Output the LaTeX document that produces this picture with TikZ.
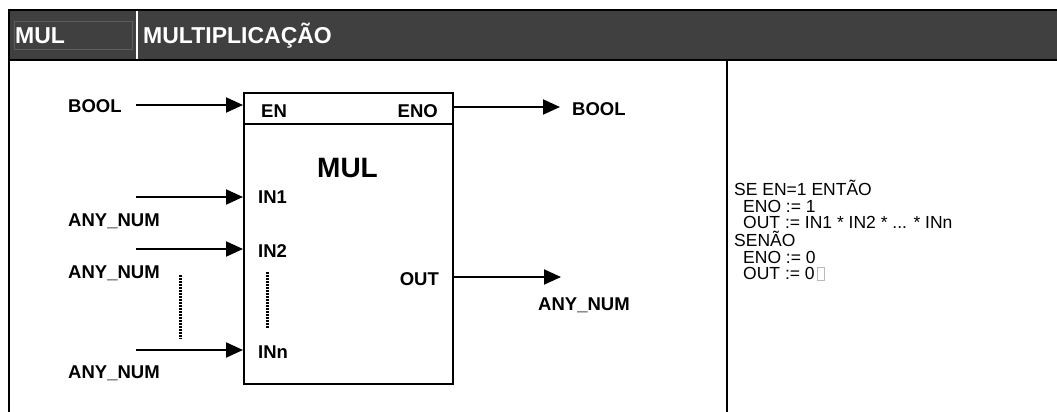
\documentclass[tikz,border=0pt]{standalone}
\usepackage{fontspec}
\setmainfont{Liberation Sans}
\usetikzlibrary{arrows.meta}

\definecolor{hdrgray}{HTML}{404040}
\definecolor{hdredge}{HTML}{5C5C5C}
\newcommand{\nobox}{\hspace{2pt}{\color{gray!55}\fboxsep=0pt\fboxrule=0.7pt\fbox{\rule{0pt}{12pt}\hspace{7pt}}}}

\begin{document}
\begin{tikzpicture}[x=1pt, y=-1pt,
    pin/.style={line width=2pt, -{Triangle[length=17pt,width=15pt]}},
    lbl/.style={anchor=base west, inner sep=0, font=\fontsize{18.5}{20}\selectfont\bfseries},
    rlbl/.style={lbl, anchor=base east},
    hdr/.style={lbl, text=white, font=\fontsize{23}{25}\selectfont\bfseries},
    code/.style={anchor=base west, inner sep=0, font=\fontsize{17.5}{18}\selectfont},
    dots/.style={line width=3pt, dash pattern=on 1.6pt off 1.4pt}]
    \useasboundingbox (0,0) rectangle (1057,412);

    % header band
    \fill[hdrgray] (8,10) rectangle (1057,60);
    \draw[hdredge] (14,21) rectangle (132,49);
    \draw[white, line width=1.5pt] (137,11) -- (137,59);
    \draw[line width=2pt] (8,10) -- (1057,10);
    \draw[line width=2pt] (8,60) -- (1057,60);
    \node[hdr] (hmul) at (15,43.5) {MUL};
    \node[hdr] (htitle) at (143,43.5) {MULTIPLICAÇÃO};

    % table borders
    \draw[line width=2pt] (9,10) -- (9,412);
    \draw[line width=2pt] (727,60) -- (727,412);

    % function block
    \node[draw, line width=2pt, inner sep=0, anchor=north west,
          minimum width=209pt, minimum height=291pt] (mulblk) at (243,92) {};
    \draw[line width=2pt] (mulblk.west |- 0,124) -- (mulblk.east |- 0,124);
    \node[lbl, anchor=base] (bname) at (347.5,177) {\fontsize{28}{30}\selectfont MUL};
    \node[lbl] (pen) at (261,117) {EN};
    \node[rlbl] (peno) at (438,117) {ENO};
    \node[lbl] (pin1) at (258,203) {IN1};
    \node[lbl] (pin2) at (258,257) {IN2};
    \node[lbl] (pinn) at (258,358) {INn};
    \node[rlbl] (pout) at (439,285) {OUT};
    \draw[dots] (267,272) -- (267,328);

    % inputs
    \coordinate (ien) at (136,105);
    \coordinate (iin1) at (136,197);
    \coordinate (iin2) at (136,249);
    \coordinate (iinn) at (136,350);
    \draw[pin] (ien) -- (ien -| mulblk.west);
    \draw[pin] (iin1) -- (iin1 -| mulblk.west);
    \draw[pin] (iin2) -- (iin2 -| mulblk.west);
    \draw[pin] (iinn) -- (iinn -| mulblk.west);
    \node[lbl] (tbool) at (68,112) {BOOL};
    \node[lbl] (tnum1) at (68,226) {ANY\_NUM};
    \node[lbl] (tnum2) at (68,278) {ANY\_NUM};
    \node[lbl] (tnumn) at (68,378) {ANY\_NUM};
    \draw[dots] (180,275) -- (180,339);

    % outputs
    \coordinate (oeno) at (560,107);
    \coordinate (oout) at (561,277);
    \draw[pin] (oeno -| mulblk.east) -- (oeno);
    \draw[pin] (oout -| mulblk.east) -- (oout);
    \node[lbl] (obool) at (572,115) {BOOL};
    \node[lbl] (onum) at (538,310) {ANY\_NUM};

    % description
    \node[code] (c1) at (734,195.5) {SE EN=1 ENTÃO};
    \node[code] (c2) at (743,212) {ENO := 1};
    \node[code] (c3) at (743,228.5) {OUT := IN1 * IN2 * ... * INn};
    \node[code] (c4) at (734,246.5) {SENÃO};
    \node[code] (c5) at (743,263) {ENO := 0};
    \node[code] (c6) at (743,279.5) {OUT := 0\nobox};
\end{tikzpicture}
\end{document}
